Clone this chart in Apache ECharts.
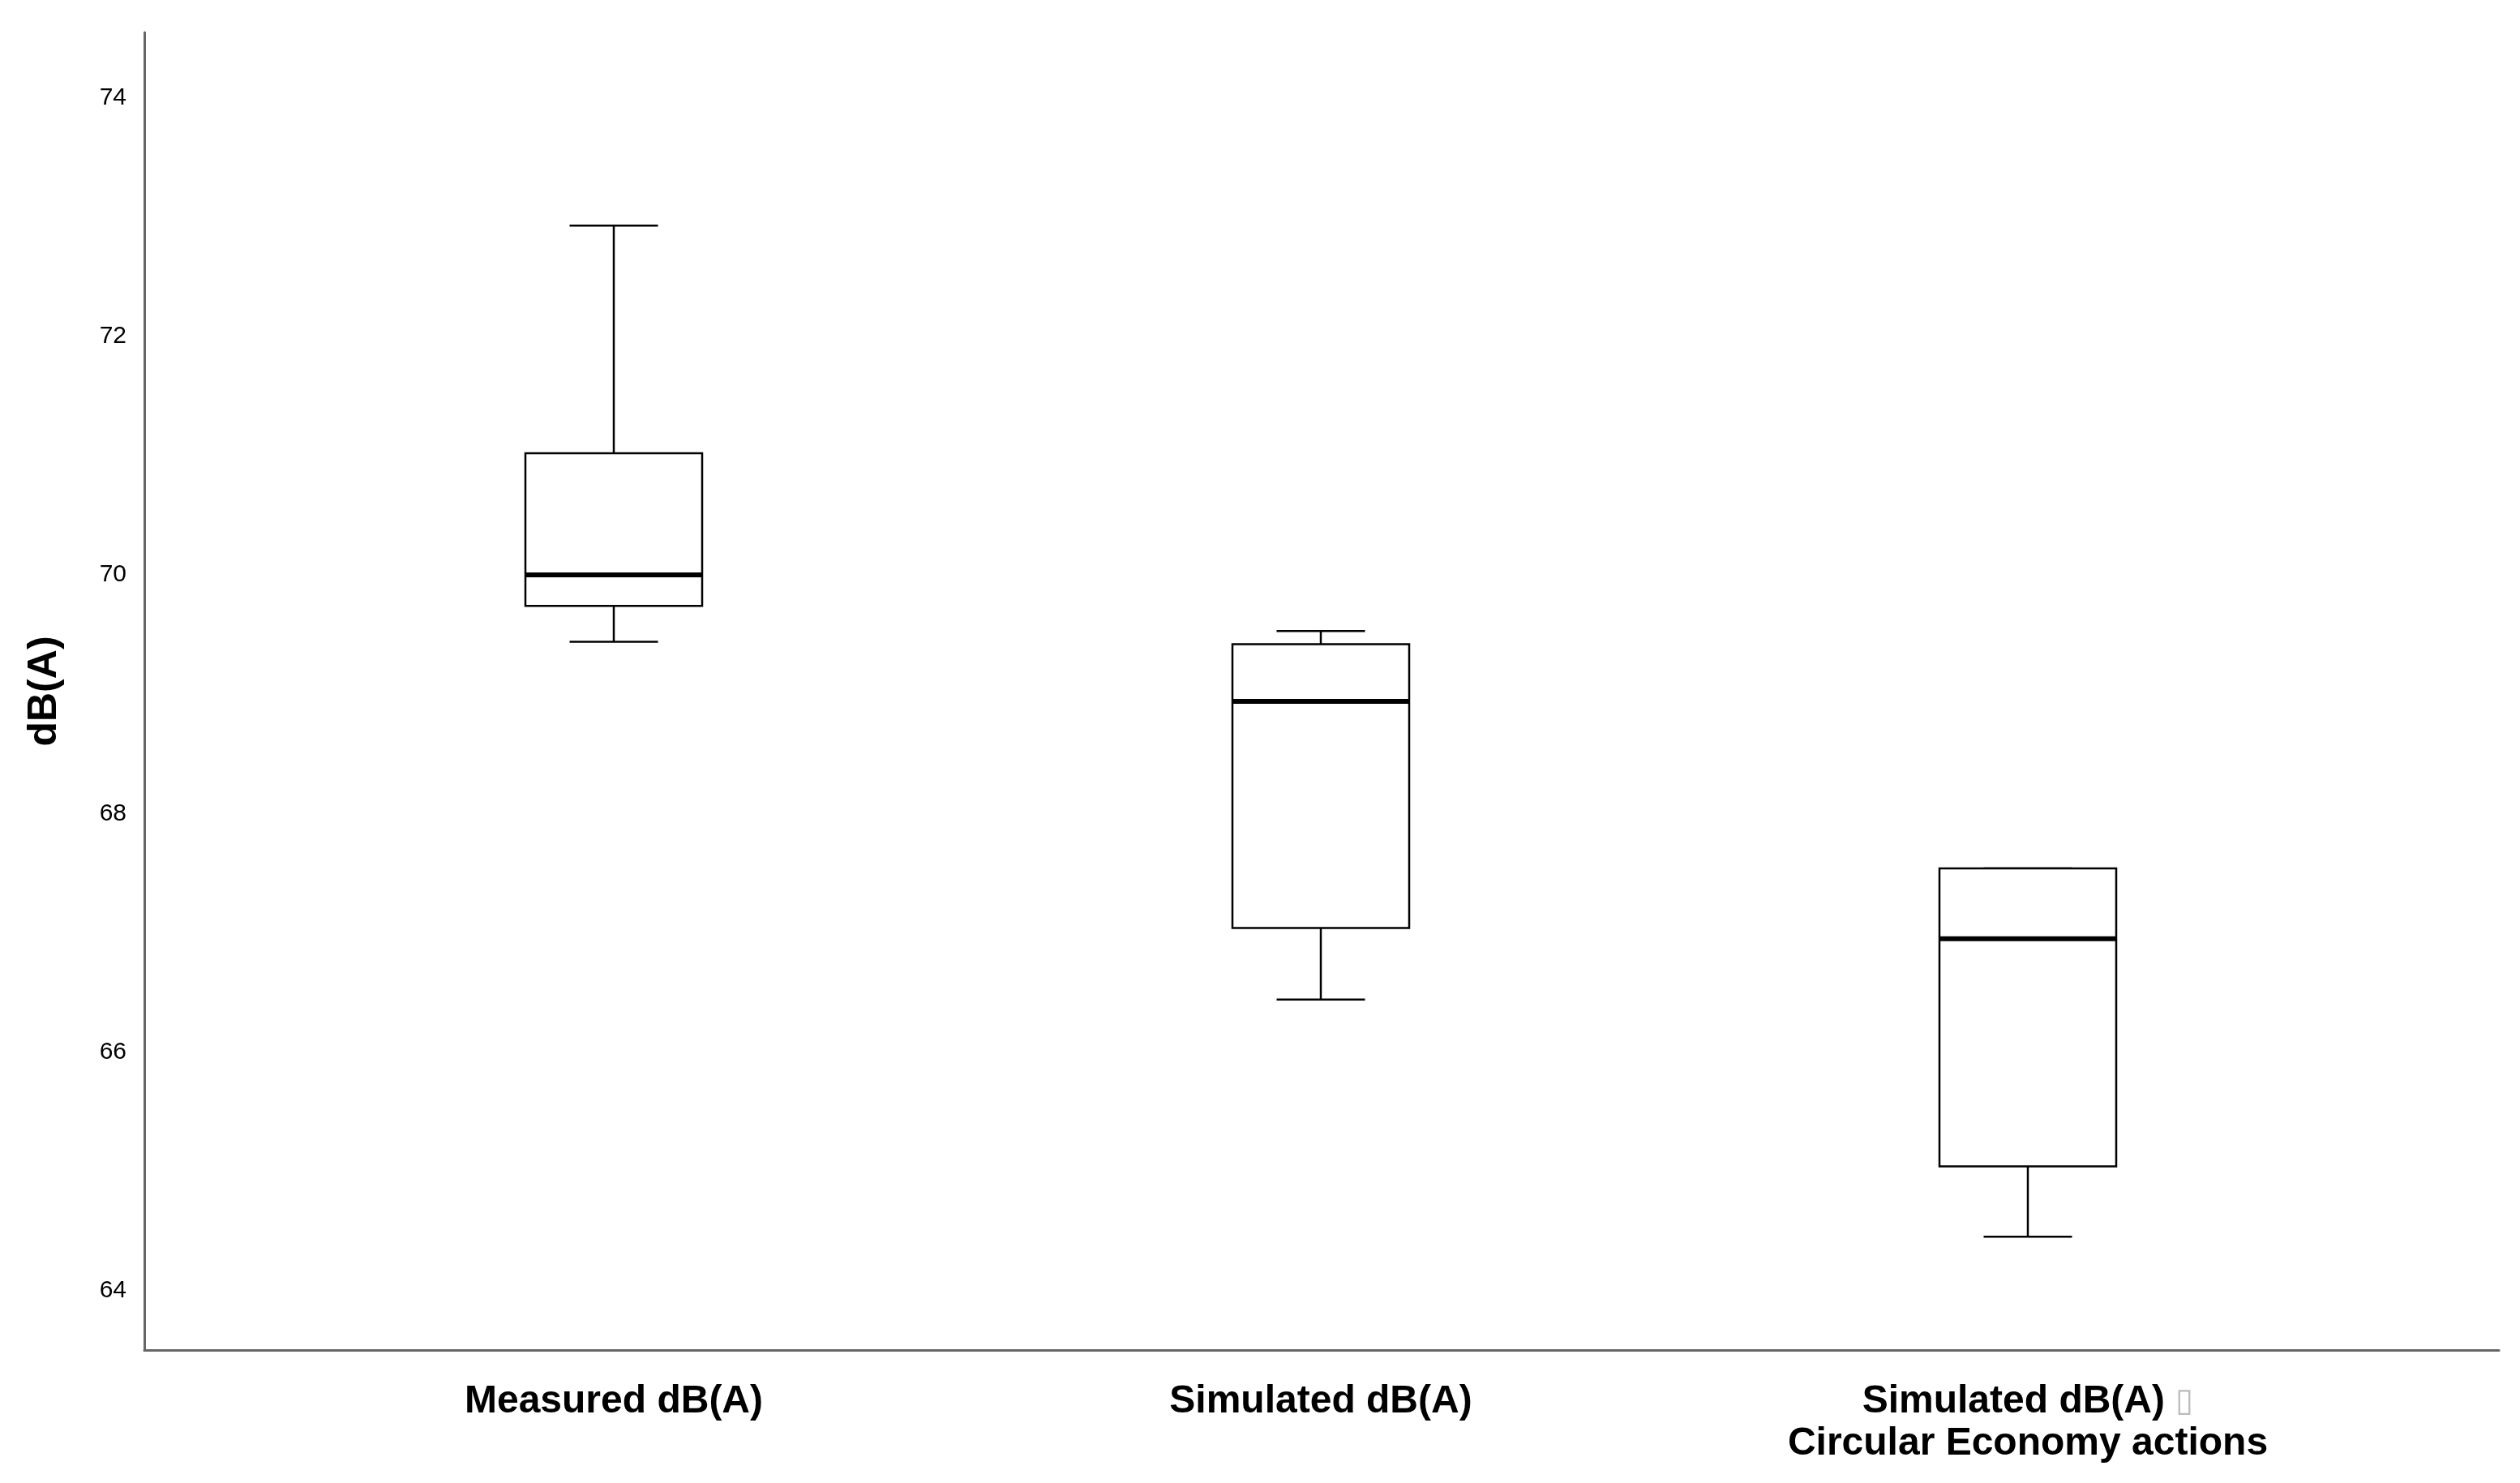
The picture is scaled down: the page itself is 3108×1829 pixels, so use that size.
<!DOCTYPE html>
<html>
<head>
<meta charset="utf-8">
<script src="https://cdn.jsdelivr.net/npm/echarts@6/dist/echarts.min.js"></script>
<style>
  html, body { margin: 0; padding: 0; background: #fff; }
  #chart { width: 3108px; height: 1829px; }
</style>
</head>
<body>
<div id="chart"></div>
<script>
// Box plot values: [low whisker, Q1, median, Q3, high whisker]
const categories = ['Measured dB(A)', 'Simulated dB(A)', 'Simulated dB(A) {g|\u25AF}\nCircular Economy actions'];
const measured = [69.44, 69.74, 70.0, 71.02, 72.93];
const simulated = [66.44, 67.04, 68.94, 69.42, 69.53];
const simulatedCE = [64.45, 65.04, 66.95, 67.54, 67.54];
const yTicks = [64, 66, 68, 70, 72, 74];

const boxes = [measured, simulated, simulatedCE].map((v, i) => [i, ...v]);

const chart = echarts.init(document.getElementById('chart'));
const TOP = 40, BOTTOM = 1829 - 1665;
const font = '"Liberation Sans", Arial, sans-serif';

function renderBox(params, api) {
    const x = api.value(0);
    const lo = api.coord([x, api.value(1)]);
    const q1 = api.coord([x, api.value(2)]);
    const med = api.coord([x, api.value(3)]);
    const q3 = api.coord([x, api.value(4)]);
    const hi = api.coord([x, api.value(5)]);
    const band = api.size([1, 0])[0];
    const bw = band * 0.25, cw = band * 0.125;
    const cx = lo[0];
    const line = (x1, y1, x2, y2, w) => ({
        type: 'line',
        shape: { x1, y1, x2, y2 },
        style: { stroke: '#000', lineWidth: w || 2.5 }
    });
    return {
        type: 'group',
        children: [
            line(cx, hi[1], cx, q3[1]),
            line(cx, q1[1], cx, lo[1]),
            line(cx - cw / 2, hi[1], cx + cw / 2, hi[1]),
            line(cx - cw / 2, lo[1], cx + cw / 2, lo[1]),
            {
                type: 'rect',
                shape: { x: cx - bw / 2, y: q3[1], width: bw, height: q1[1] - q3[1] },
                style: { fill: '#fff', stroke: '#000', lineWidth: 2.5 }
            },
            line(cx - bw / 2, med[1], cx + bw / 2, med[1], 6)
        ]
    };
}

chart.setOption({
    animation: false,
    backgroundColor: '#fff',
    grid: [
        { left: 321, right: 171, top: TOP, bottom: BOTTOM },
        { left: 178, right: 26, top: TOP, bottom: BOTTOM }
    ],
    xAxis: [
        {
            type: 'category', gridIndex: 0, data: categories,
            axisLine: { show: false }, axisTick: { show: false },
            axisLabel: {
                margin: 38, color: '#000', fontFamily: font, fontWeight: 'bold',
                fontSize: 48, lineHeight: 52,
                rich: { g: { color: '#bbb', fontSize: 40, fontWeight: 'normal' } }
            }
        },
        {
            type: 'value', gridIndex: 1, min: 0, max: 1,
            axisLine: { show: true, lineStyle: { color: '#666', width: 3 } },
            axisTick: { show: false }, axisLabel: { show: false }, splitLine: { show: false }
        }
    ],
    yAxis: [
        {
            type: 'value', gridIndex: 0, min: 63.5, max: 74.55,
            axisLine: { show: false }, axisTick: { show: false },
            axisLabel: { show: false }, splitLine: { show: false }
        },
        {
            type: 'value', gridIndex: 1, min: 63.5, max: 74.55,
            axisLine: { show: true, lineStyle: { color: '#666', width: 3 } },
            axisTick: { show: false }, splitLine: { show: false },
            axisLabel: {
                margin: 22, color: '#000', fontFamily: font, fontSize: 30,
                customValues: yTicks
            },
            name: 'dB(A)', nameLocation: 'middle', nameGap: 98, nameRotate: 90,
            nameTextStyle: { color: '#000', fontFamily: font, fontWeight: 'bold', fontSize: 50 }
        }
    ],
    series: [{
        type: 'custom',
        xAxisIndex: 0, yAxisIndex: 0,
        renderItem: renderBox,
        encode: { x: 0, y: [1, 2, 3, 4, 5] },
        data: boxes
    }]
});
</script>
</body>
</html>
